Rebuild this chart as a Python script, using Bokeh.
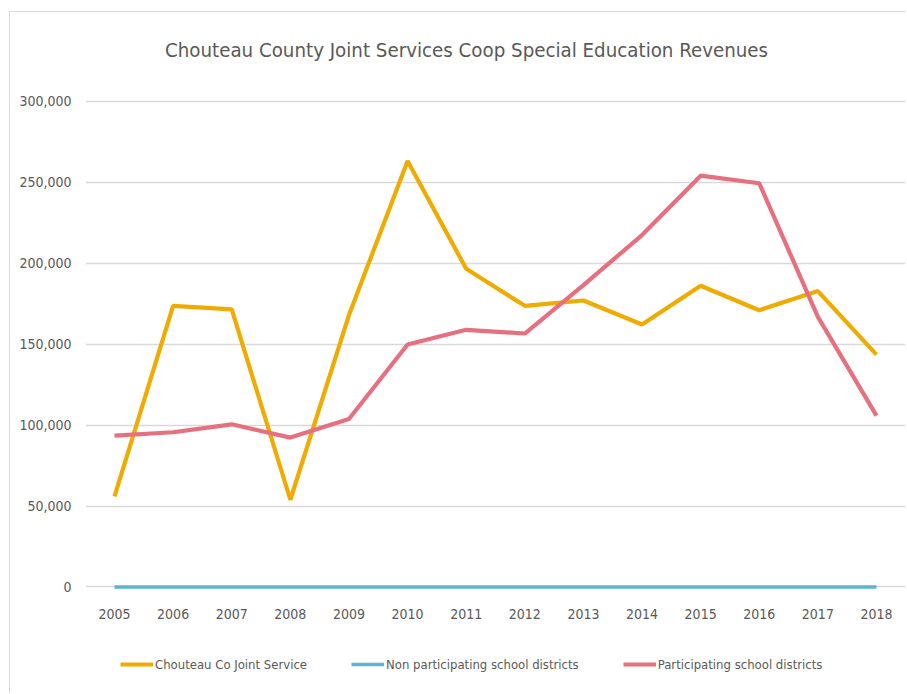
from bokeh.plotting import figure
from bokeh.layouts import column
from bokeh.models import Range1d, FixedTicker, Legend, LegendItem, NumeralTickFormatter, Div
from bokeh.embed import file_html
from bokeh.resources import INLINE

title_text = "Chouteau County Joint Services Coop Special Education Revenues"
years = [2005, 2006, 2007, 2008, 2009, 2010, 2011, 2012, 2013, 2014, 2015, 2016, 2017, 2018]
chouteau = [56000, 173700, 171500, 53900, 168000, 263200, 196600, 173700, 177000, 162200, 186100, 171000, 182800, 143600]
non_participating = [0, 0, 0, 0, 0, 0, 0, 0, 0, 0, 0, 0, 0, 0]
participating = [93500, 95600, 100500, 92300, 103800, 149800, 158900, 156600, 186500, 217400, 254100, 249400, 166900, 105900]
y_ticks = [0, 50000, 100000, 150000, 200000, 250000, 300000]

series_names = ["Chouteau Co Joint Service", "Non participating school districts", "Participating school districts"]
series_values = [chouteau, non_participating, participating]
colors = ["#EFAB00", "#5DB6CF", "#E6707F"]
widths = [4.2, 3.5, 4.2]

FONT = "DejaVu Sans Condensed"
TXT = "#595959"

# ---- title strip ----
title_div = Div(
    text=('<div style="font-family:\'DejaVu Sans Condensed\';font-size:20.3px;color:#595959;'
          'line-height:24px;padding-top:26px;padding-left:155px;white-space:nowrap;">'
          + title_text + '</div>'),
    width=896, height=60, margin=0)

# ---- main chart ----
p = figure(width=896, height=568, output_backend="svg", toolbar_location=None,
           x_range=Range1d(2004.505, 2018.495), y_range=Range1d(-3400, 302400),
           min_border_left=75, min_border_right=1, min_border_top=25, min_border_bottom=48,
           title=None)

p.outline_line_color = None
p.background_fill_color = "white"
p.border_fill_color = "white"

p.xgrid.grid_line_color = None
p.ygrid.grid_line_color = "#d9d9d9"
p.ygrid.grid_line_width = 1.3
p.ygrid.ticker = FixedTicker(ticks=y_ticks)

p.yaxis.ticker = FixedTicker(ticks=y_ticks)
p.yaxis.formatter = NumeralTickFormatter(format="0,0")
p.xaxis.ticker = FixedTicker(ticks=years)
for ax in (p.xaxis[0], p.yaxis[0]):
    ax.axis_line_color = None
    ax.major_tick_line_color = None
    ax.minor_tick_line_color = None
    ax.major_tick_out = 0
    ax.major_tick_in = 0
    ax.minor_tick_out = 0
    ax.major_label_text_font = FONT
    ax.major_label_text_font_size = "14px"
    ax.major_label_text_color = TXT
p.xaxis.major_label_standoff = 16
p.yaxis.major_label_standoff = 14

for vals, c, w in zip(series_values, colors, widths):
    p.line(years, vals, line_color=c, line_width=w)

# ---- legend strip below the chart ----
lg = figure(width=896, height=53, output_backend="svg", toolbar_location=None,
            x_range=Range1d(0, 1), y_range=Range1d(0, 1),
            x_axis_type=None, y_axis_type=None,
            min_border_left=0, min_border_right=0, min_border_top=0, min_border_bottom=0)
lg.outline_line_color = None
lg.xgrid.grid_line_color = None
lg.ygrid.grid_line_color = None
lg.background_fill_color = "white"
lg.border_fill_color = "white"

items = []
for name, vals, c, w in zip(series_names, series_values, colors, widths):
    r = lg.line(years, vals, line_color=c, line_width=w, visible=False)
    items.append(LegendItem(label=name, renderers=[r]))

legend = Legend(items=items, orientation="horizontal", location=(35, 20),
                label_text_font=FONT, label_text_font_size="13px", label_text_color=TXT,
                glyph_width=33, glyph_height=18, label_standoff=2, spacing=44,
                padding=0, margin=0, border_line_color=None, background_fill_alpha=0,
                inactive_fill_alpha=0)
lg.add_layout(legend)

layout = column(title_div, p, lg, spacing=0)
layout.margin = (11, 0, 0, 9)
layout.styles = {"border-top": "1px solid #d9d9d9", "border-left": "1px solid #d9d9d9"}
open("out.html", "w").write(file_html(layout, INLINE))
